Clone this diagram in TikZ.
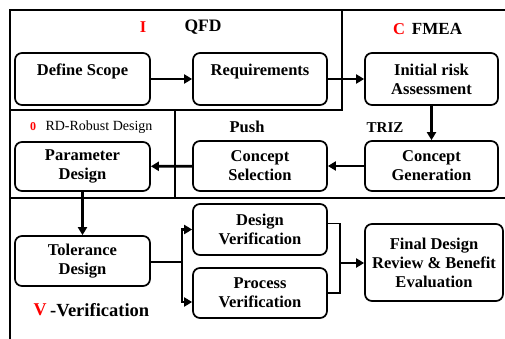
\documentclass[tikz,border=0pt]{standalone}
\usepackage{fontspec}
\setmainfont{Liberation Serif}
\usetikzlibrary{arrows.meta}

\begin{document}
\begin{tikzpicture}[x=1pt,y=-1pt,
  box/.style={draw,line width=1.7pt,rounded corners=7pt,align=center,inner sep=0pt,
    font=\fontsize{16.5}{19}\selectfont\bfseries},
  flow/.style={line width=2.8pt,-{Triangle[length=8pt,width=9pt]}},
  link/.style={line width=1.7pt},
  lbl/.style={inner sep=0pt,font=\fontsize{16.5}{19}\selectfont\bfseries},
  tag/.style={lbl,red}]
  \useasboundingbox (0,0) rectangle (505,339);
  % frame of the four phases
  \draw[line width=1.5pt] (505,10) -- (10,10) -- (10,339);
  \draw[line width=1.5pt] (342,10) -- (342,110) -- (10,110);
  \draw[line width=1.3pt] (175,110) -- (175,198);
  \draw[line width=1.5pt] (10,198) -- (505,198);
  % phase labels
  \node[tag] (ti) at (143,27) {I};
  \node[lbl,font=\fontsize{17.5}{20}\selectfont\bfseries] (qfd) at (203,27) {QFD};
  \node[tag] (tc) at (399,29) {C};
  \node[lbl,font=\fontsize{17}{20}\selectfont\bfseries] (fmea) at (437,29) {FMEA};
  \node[tag,font=\fontsize{12}{14}\selectfont\bfseries] (to) at (33,127) {0};
  \node[inner sep=0pt,font=\fontsize{14}{16}\selectfont] (rd) at (99,127) {RD-Robust Design};
  \node[lbl] (push) at (247,127) {Push};
  \node[lbl,font=\fontsize{15}{18}\selectfont\bfseries] (triz) at (385,128) {TRIZ};
  \node[tag,font=\fontsize{18}{20}\selectfont\bfseries] (tv) at (40,310) {V};
  \node[lbl,anchor=west,font=\fontsize{18.5}{21}\selectfont\bfseries] (verif) at (50,310) {-Verification};
  % steps
  \node[box,minimum width=135pt,minimum height=52pt] (scope) at (82.5,79) {Define Scope\\\phantom{X}};
  \node[box,minimum width=134pt,minimum height=52pt] (req) at (260,79) {Requirements\\\phantom{X}};
  \node[box,minimum width=133pt,minimum height=52pt] (init) at (431.5,79) {Initial risk\\Assessment};
  \node[box,minimum width=133pt,minimum height=50pt] (cgen) at (431.5,166) {Concept\\Generation};
  \node[box,minimum width=134pt,minimum height=50pt] (csel) at (260,166) {Concept\\Selection};
  \node[box,minimum width=135pt,minimum height=49pt] (param) at (82.5,166.5) {Parameter\\Design};
  \node[box,minimum width=135pt,minimum height=50pt] (tol) at (82.5,261) {Tolerance\\Design};
  \node[box,minimum width=134pt,minimum height=51pt] (dver) at (260,229.5) {Design\\Verification};
  \node[box,minimum width=134pt,minimum height=50pt] (pver) at (260,293) {Process\\Verification};
  \node[box,minimum width=138pt,minimum height=77pt] (final) at (434,262.5) {Final Design\\Review \& Benefit\\Evaluation};
  \coordinate (split) at (182,262);
  \coordinate (join) at (340,263);
  % connectors
  \draw[flow] (scope) -- (req);
  \draw[flow] (req) -- (init);
  \draw[flow] (init) -- (cgen);
  \draw[flow] (cgen) -- (csel);
  \draw[flow] (csel) -- (param);
  \draw[flow] (param) -- (tol);
  \draw[link] (tol.east |- split) -- (split);
  \draw[flow] (split) |- (dver.west);
  \draw[flow] (split) |- ([yshift=-9pt]pver.west);
  \draw[link] ([yshift=6pt]dver.east) -| (join);
  \draw[link] (pver.east) -| (join);
  \draw[flow] (join) -- (final.west |- join);
\end{tikzpicture}
\end{document}
